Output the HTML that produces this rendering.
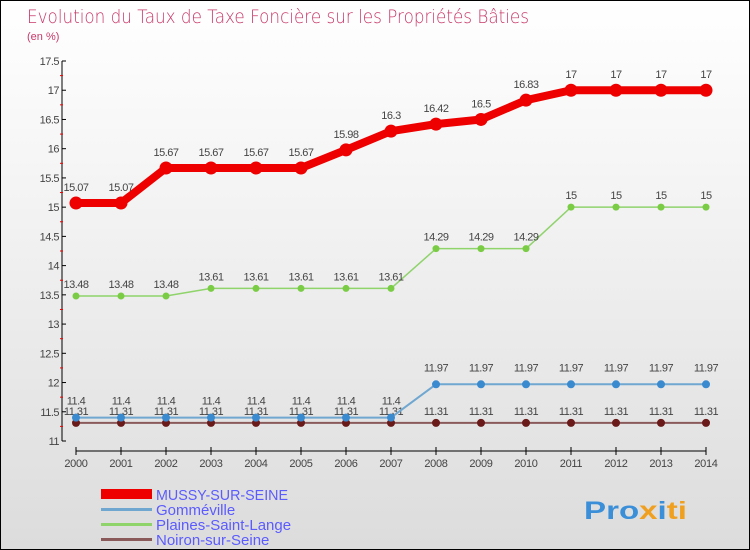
<!DOCTYPE html>
<html><head><meta charset="utf-8"><style>
body{margin:0}
#c{position:relative;width:750px;height:550px;box-sizing:border-box;border:1px solid #000;background:linear-gradient(#ffffff,#f2f2f2 40%,#dcdcdc);overflow:hidden;font-family:"Liberation Sans","DejaVu Sans",sans-serif}
</style></head><body>
<div id="c">
<svg width="750" height="550" id="svg">
<text x="26" y="22" font-size="19" fill="#c8386a" textLength="502" lengthAdjust="spacingAndGlyphs" style="font-family:'DejaVu Sans',sans-serif;font-weight:200">Evolution du Taux de Taxe Foncière sur les Propriétés Bâties</text>
<text x="26" y="39" font-size="11" fill="#c8386a">(en %)</text>
<g id="axes"></g><g id="series"></g>
<g>
<rect x="100" y="488" width="51" height="10" fill="#ee0000"/>
<text x="155" y="499" font-size="15" fill="#5b5bff" textLength="132" lengthAdjust="spacingAndGlyphs">MUSSY-SUR-SEINE</text>
<rect x="100" y="507" width="51" height="3" fill="#6fa7d1"/>
<text x="155" y="514" font-size="15" fill="#5b5bff">Gomméville</text>
<rect x="100" y="522" width="51" height="3" fill="#8fd36b"/>
<text x="155" y="529" font-size="15" fill="#5b5bff">Plaines-Saint-Lange</text>
<rect x="100" y="537" width="51" height="3" fill="#8a5a5a"/>
<text x="155" y="544" font-size="15" fill="#5b5bff">Noiron-sur-Seine</text>
</g>
<text x="583" y="518" font-size="25" font-weight="bold" fill="#3a8fd8" textLength="103" lengthAdjust="spacingAndGlyphs">Pro<tspan fill="#f0a020">x</tspan><tspan fill="#3a8fd8">i</tspan><tspan fill="#f0a020">ti</tspan></text>
</svg></div>
<script>
const years=[2000,2001,2002,2003,2004,2005,2006,2007,2008,2009,2010,2011,2012,2013,2014];
const yTicks=[11,11.5,12,12.5,13,13.5,14,14.5,15,15.5,16,16.5,17,17.5];
const mussy=[15.07,15.07,15.67,15.67,15.67,15.67,15.98,16.3,16.42,16.5,16.83,17,17,17,17];
const gommeville=[11.4,11.4,11.4,11.4,11.4,11.4,11.4,11.4,11.97,11.97,11.97,11.97,11.97,11.97,11.97];
const plaines=[13.48,13.48,13.48,13.61,13.61,13.61,13.61,13.61,14.29,14.29,14.29,15,15,15,15];
const noiron=[11.31,11.31,11.31,11.31,11.31,11.31,11.31,11.31,11.31,11.31,11.31,11.31,11.31,11.31,11.31];
const NS="http://www.w3.org/2000/svg";
const X=i=>75+i*45, Y=v=>440-(v-11)*(380/6.5);
function mk(t,a,p){const e=document.createElementNS(NS,t);for(const k in a)e.setAttribute(k,a[k]);p.appendChild(e);return e;}
const ax=document.getElementById('axes'), sg=document.getElementById('series');
let l=mk('line',{x1:61,y1:Y(17.5),x2:61,y2:Y(11),stroke:'#000'},ax);


l=mk('line',{x1:X(0),y1:450,x2:X(14),y2:450,stroke:'#000'},ax);


yTicks.forEach((v,i)=>{
 mk('line',{x1:61,y1:Y(v),x2:65,y2:Y(v),stroke:'#000'},ax);
 if(i<yTicks.length-1) mk('line',{x1:59,y1:Y(v+0.25),x2:62,y2:Y(v+0.25),stroke:'#e00'},ax);
 const t=mk('text',{x:58,y:Y(v)+4,'font-size':11,fill:'#444','text-anchor':'end','letter-spacing':'-0.5'},ax);
 t.textContent=v;
 
 
});
years.forEach((y,i)=>{
 mk('line',{x1:X(i),y1:446,x2:X(i),y2:454,stroke:'#000'},ax);
 const t=mk('text',{x:X(i),y:466,'font-size':11,fill:'#444','text-anchor':'middle','letter-spacing':'-0.3'},ax);
 t.textContent=y;
 
 
});
function series(data,color,w,r,dot,name,dy){
 const g=mk('g',{},sg);
 
 
 mk('polyline',{points:data.map((v,i)=>X(i)+','+Y(v)).join(' '),fill:'none',stroke:color,'stroke-width':w,'stroke-linejoin':'round'},g);
 data.forEach((v,i)=>{
  const c=mk('circle',{cx:X(i),cy:Y(v),r:r,fill:dot},g);
  
  
  const t=mk('text',{x:X(i),y:Y(v)+dy,'font-size':11,fill:'#444','text-anchor':'middle','letter-spacing':'-0.5'},g);
  t.textContent=v;
  
  
 });
}
series(noiron,'#8a5a5a',2,4,'#6b1a1a','noiron',-8);
series(gommeville,'#6fa7d1',2,4,'#3a8ad0','gommeville',-13);
series(plaines,'#8fd36b',1.5,3.5,'#7acc44','plaines',-8);
series(mussy,'#ee0000',8,6.5,'#ee0000','mussy',-12);
</script>
</body></html>
